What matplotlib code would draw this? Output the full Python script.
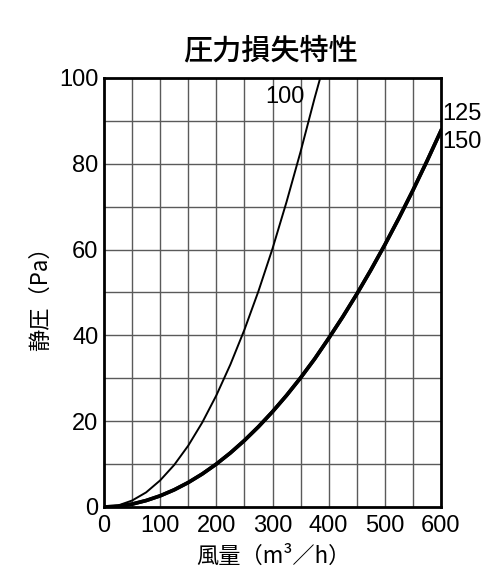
import matplotlib
matplotlib.use("Agg")
import matplotlib.pyplot as plt

# values
airflow = [0, 25, 50, 75, 100, 125, 150, 175, 200, 225, 250, 275, 300,
           325, 350, 375, 400, 425, 450, 475, 500, 525, 550, 575, 600]

airflow_100 = [0, 25, 50, 75, 100, 125, 150, 175, 200, 225, 250, 275, 300,
               325, 350, 375, 385]
pressure_100 = [0, 0.35, 1.5, 3.4, 6.2, 9.8, 14.3, 19.7, 26, 33.2, 41.3, 50.3, 60.2,
                71.1, 82.8, 95.3, 100]

pressure_125 = [0, 0.17, 0.67, 1.5, 2.6, 4.0, 5.7, 7.7, 10, 12.6, 15.5, 18.7, 22.2,
                26, 30.1, 34.5, 39.3, 44.3, 49.6, 55.2, 61.1, 67.3, 73.8, 80.6, 87.7]
pressure_150 = [0, 0.17, 0.67, 1.5, 2.6, 4.0, 5.7, 7.7, 10, 12.6, 15.5, 18.7, 22.2,
                26, 30.1, 34.5, 39.3, 44.3, 49.6, 55.2, 61.1, 67.3, 73.8, 80.6, 87.7]

xticks = [0, 100, 200, 300, 400, 500, 600]
yticks = [0, 20, 40, 60, 80, 100]

num_font = ['Liberation Sans', 'Noto Sans CJK JP']
jp_font = ['Noto Sans CJK JP', 'Liberation Sans']

fig = plt.figure(figsize=(5, 5.83), dpi=100)
ax = fig.add_axes([0.208, 0.1304, 0.674, 0.736])

# grid every 50 / every 10
for gx in range(50, 600, 50):
    ax.axvline(gx, color='#5a5a5a', lw=1.0, zorder=1)
for gy in range(10, 100, 10):
    ax.axhline(gy, color='#5a5a5a', lw=1.0, zorder=1)

ax.plot(airflow_100, pressure_100, color='black', lw=1.4, zorder=3)
ax.plot(airflow, pressure_125, color='black', lw=2.6, zorder=3)
ax.plot(airflow, pressure_150, color='black', lw=2.6, zorder=3)

ax.set_xlim(0, 600)
ax.set_ylim(0, 100)
ax.set_xticks(xticks)
ax.set_yticks(yticks)
ax.tick_params(axis='x', length=0, pad=6)
ax.tick_params(axis='y', length=0, pad=4)
for lab in ax.get_xticklabels() + ax.get_yticklabels():
    lab.set_family(num_font)
    lab.set_fontsize(17)
for s in ax.spines.values():
    s.set_linewidth(2)
    s.set_zorder(4)

ax.text(287, 95.5, '100', family=num_font, fontsize=17, ha='left', va='center')
ax.text(603, 91.5, '125', family=num_font, fontsize=17, ha='left', va='center',
        clip_on=False)
ax.text(603, 85, '150', family=num_font, fontsize=17, ha='left', va='center',
        clip_on=False)

fig.text(0.542, 0.912, '圧力損失特性', family=jp_font, fontsize=21,
         ha='center', va='center', weight='medium')
fig.text(0.546, 0.046, '風量（m³／h）', family=jp_font, fontsize=16,
         ha='center', va='center')
fig.text(0.08, 0.497, '静圧（Pa）', family=jp_font, fontsize=16,
         ha='center', va='center', rotation=90)

fig.savefig('out.png', dpi=100)
